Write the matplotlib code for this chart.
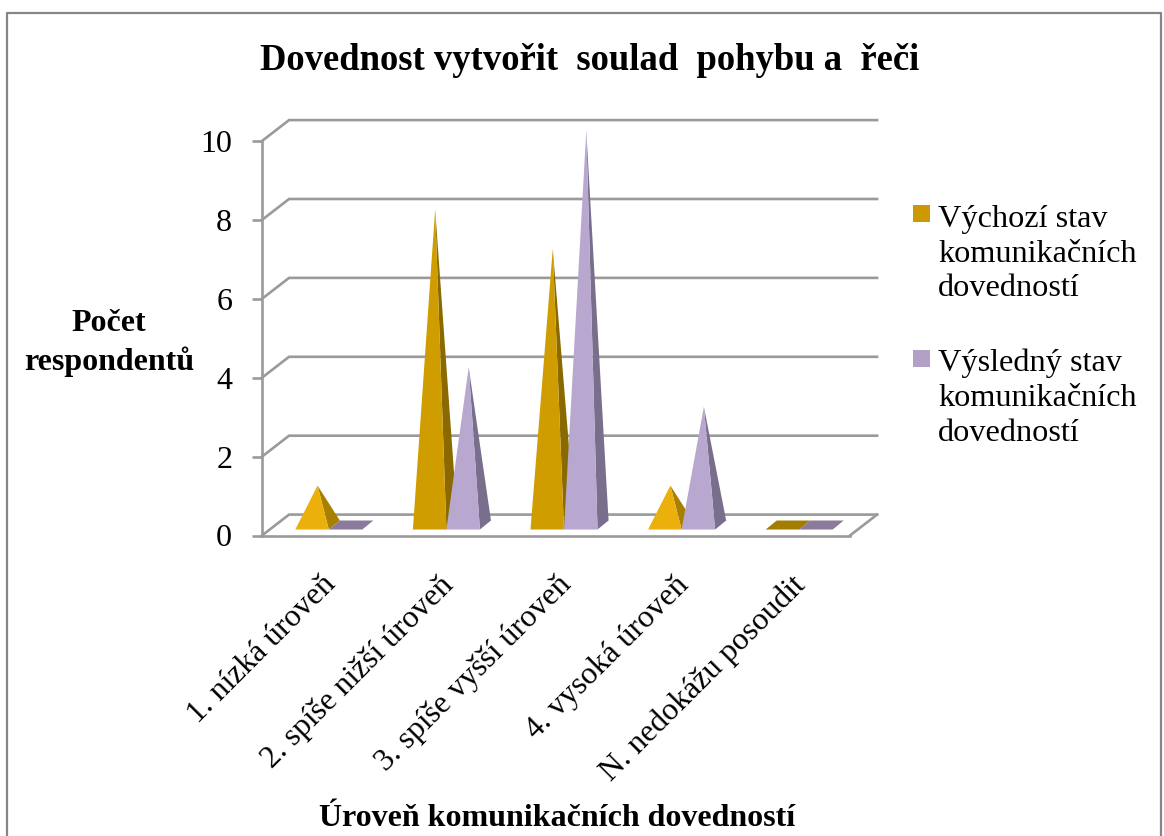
import matplotlib
matplotlib.use('Agg')
import matplotlib.pyplot as plt
from matplotlib.patches import Polygon, Rectangle

plt.rcParams['font.family'] = ['Liberation Serif', 'DejaVu Serif']

# data
categories = ['1. nízká úroveň', '2. spíše nižší úroveň', '3. spíše vyšší úroveň',
              '4. vysoká úroveň', 'N. nedokážu posoudit']
vychozi = [1, 8, 7, 1, 0]
vysledny = [0, 4, 10, 3, 0]
y_ticks = [0, 2, 4, 6, 8, 10]
names = ['Výchozí stav\nkomunikačních\ndovedností', 'Výsledný stav\nkomunikačních\ndovedností']

W, H = 1164, 836
GRID = '#9a9a9a'
# depth of the fake 3d box, in data units
DX, DY = 0.23, 0.53
# pyramid footprint inside the box
HALF = 0.1425
FRONT_X, FRONT_Y = 0.068, 0.152
DEPTH_X, DEPTH_Y = 0.094, 0.228


def fx(px):
    return px / W


def fy(py):
    return 1 - py / H


fig = plt.figure(figsize=(W / 100, H / 100), dpi=100)
fig.patch.set_facecolor('white')
ax = fig.add_axes([fx(262), fy(535.5), fx(850) - fx(262), fy(141) - fy(535.5)])
ax.patch.set_alpha(0)
ax.set_xlim(0, 5)
ax.set_ylim(0, 10)

# frame round the whole chart, bottom is cut off in the picture
fig.add_artist(plt.Line2D([fx(7), fx(7), fx(1161), fx(1161)], [fy(840), fy(13), fy(13), fy(840)],
                          color='#868686', lw=1.6))

# walls and floor
for v in y_ticks:
    ax.plot([0, DX, 5 + DX], [v, v + DY, v + DY], color=GRID, lw=1.9, clip_on=False, zorder=1,
            solid_joinstyle='miter')
ax.plot([5, 5 + DX], [0, DY], color=GRID, lw=1.9, clip_on=False, zorder=1)

for s in ['top', 'right']:
    ax.spines[s].set_visible(False)
for s in ['left', 'bottom']:
    ax.spines[s].set_color(GRID)
    ax.spines[s].set_linewidth(1.9)

ax.set_yticks(y_ticks)
ax.tick_params(axis='y', length=7.5, width=1.9, color=GRID, labelsize=23, pad=14)
ax.set_xticks([i + 0.5 for i in range(len(categories))])
ax.set_xticklabels(categories, rotation=45, ha='right', va='top', rotation_mode='anchor', fontsize=22.8)
ax.tick_params(axis='x', length=0, pad=25)


def pyramid(center, value, front, side):
    left = center - HALF + FRONT_X
    right = center + HALF + FRONT_X
    y0 = FRONT_Y
    peak_x = (left + right) / 2 + DEPTH_X / 2
    peak_y = y0 + DEPTH_Y / 2 + value
    if value == 0:
        ax.add_patch(Polygon([(left, y0), (right, y0), (right + DEPTH_X, y0 + DEPTH_Y),
                              (left + DEPTH_X, y0 + DEPTH_Y)], fc=side, ec='none', zorder=3, clip_on=False))
        return
    ax.add_patch(Polygon([(right, y0), (right + DEPTH_X, y0 + DEPTH_Y), (peak_x, peak_y)],
                         fc=side, ec='none', zorder=3, clip_on=False))
    ax.add_patch(Polygon([(left, y0), (right, y0), (peak_x, peak_y)],
                         fc=front, ec='none', zorder=3, clip_on=False))


for i in range(len(categories)):
    c = i + 0.5
    v1, v2 = vychozi[i], vysledny[i]
    if v1 == 1:
        pyramid(c - HALF, v1, '#ebb00b', '#a88000')
    elif v1 == 0:
        pyramid(c - HALF, v1, '#a37c00', '#a37c00')
    else:
        pyramid(c - HALF, v1, '#d09d00', '#8a6a00')
    if v2 == 0:
        pyramid(c + HALF, v2, '#8a7a9b', '#8a7a9b')
    else:
        pyramid(c + HALF, v2, '#b8a7cf', '#7a6e8d')

# title and axis titles
fig.text(fx(590), fy(60), 'Dovednost vytvořit  soulad  pohybu a  řeči', ha='center', va='center',
         fontsize=26.4, fontweight='bold')
fig.text(fx(109), fy(343), 'Počet\nrespondentů', ha='center', va='center', fontsize=23,
         fontweight='bold', linespacing=1.4)
fig.text(fx(557), fy(818), 'Úroveň komunikačních dovedností', ha='center', va='center',
         fontsize=23, fontweight='bold')

# legend
fig.add_artist(Rectangle((fx(913), fy(222)), fx(17), fy(205) - fy(222), fc='#cc9900', ec='none',
                         transform=fig.transFigure))
fig.add_artist(Rectangle((fx(913), fy(367)), fx(17), fy(350) - fy(367), fc='#b2a1c7', ec='none',
                         transform=fig.transFigure))
fig.text(fx(938), fy(254), names[0], ha='left', va='center', fontsize=23.2, linespacing=1.27)
fig.text(fx(938), fy(398), names[1], ha='left', va='center', fontsize=23.2, linespacing=1.27)

plt.savefig('out.png', dpi=100)
